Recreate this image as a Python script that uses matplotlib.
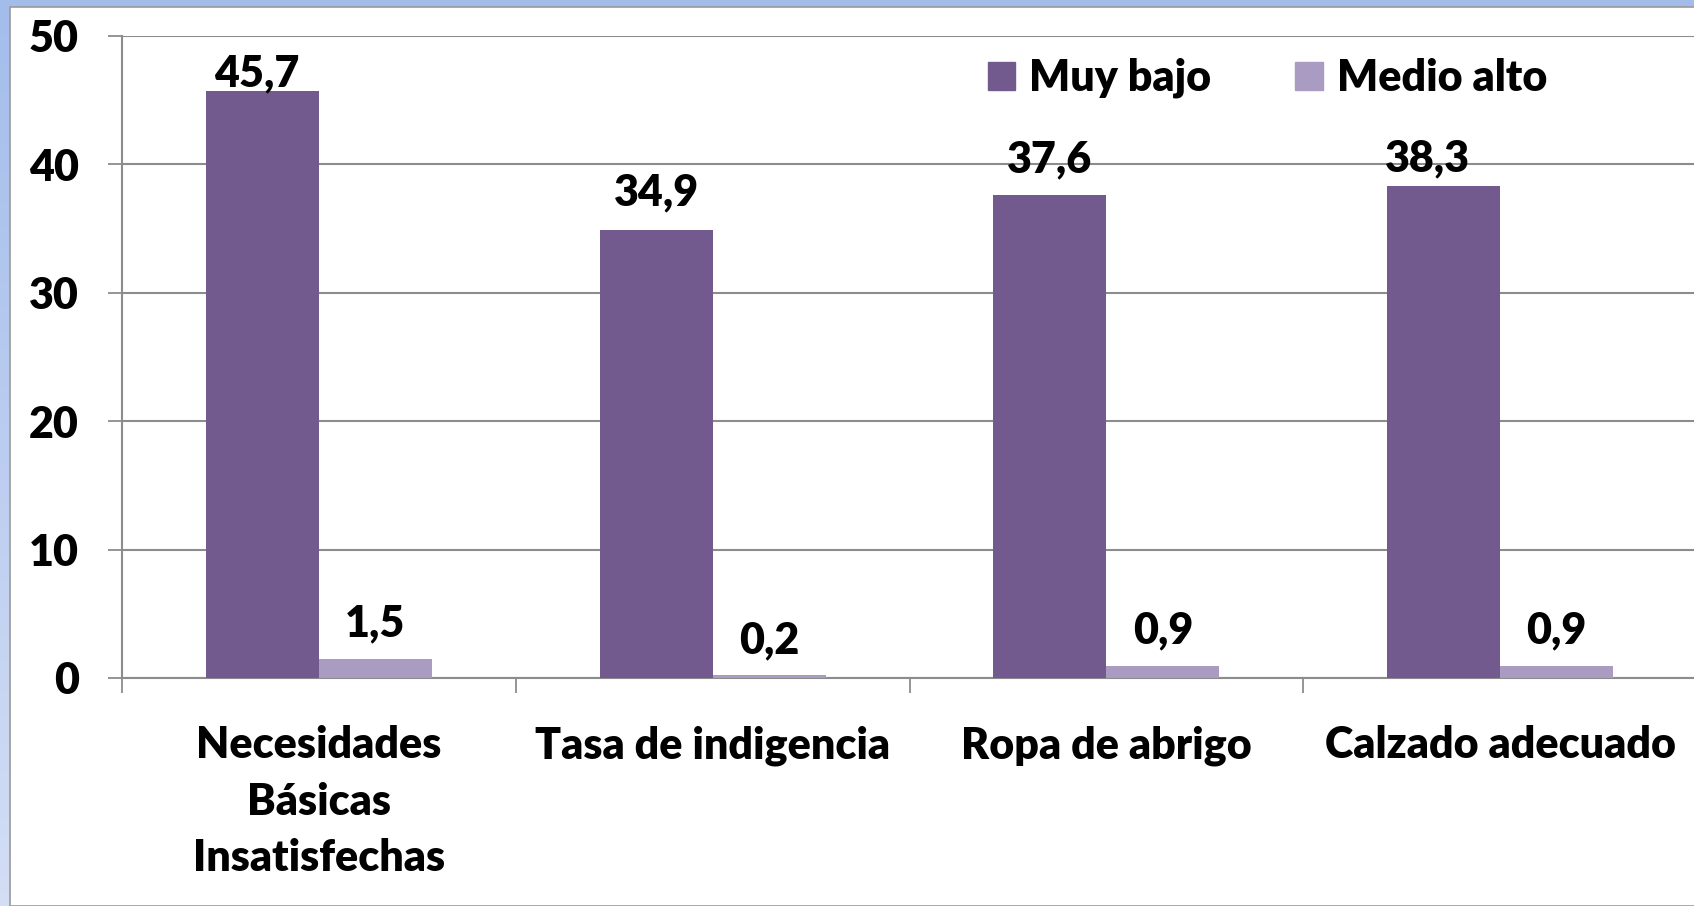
import matplotlib.pyplot as plt
import numpy as np
from matplotlib.patches import Rectangle, Patch

# data
categories = ['Necesidades\nBásicas\nInsatisfechas', 'Tasa de indigencia', 'Ropa de abrigo', 'Calzado adecuado']
muy_bajo = [45.7, 34.9, 37.6, 38.3]
medio_alto = [1.5, 0.2, 0.9, 0.9]
series_names = ['Muy bajo', 'Medio alto']

# label nudges in pixels (dx, dy above the bar top)
nudge_muy = [(-6, 18), (0, 37), (0, 36), (-16, 28)]
nudge_medio = [(0, 35), (0, 35), (0, 36), (0, 36)]

c_dark = '#725A8E'
c_light = '#A99BC1'
fs = 31
wt = 'heavy'
plt.rcParams['font.family'] = ['Lato', 'DejaVu Sans']
plt.rcParams['font.weight'] = wt

W, H = 1694, 906
fig = plt.figure(figsize=(W / 100, H / 100), dpi=100)

# slide-like background: blue gradient with a white panel
bg = fig.add_axes([0, 0, 1, 1], zorder=-10)
grad = np.linspace(0, 1, 256).reshape(-1, 1)
top = np.array([0.64, 0.74, 0.92])
bot = np.array([0.83, 0.87, 0.96])
img = top + grad[..., None] * (bot - top)
bg.imshow(img, aspect='auto', extent=[0, 1, 0, 1])
bg.add_patch(Rectangle((10 / W, 0), 1, 1 - 7 / H, facecolor='white', edgecolor='#9A9A9A', lw=1.2))
bg.set_xlim(0, 1)
bg.set_ylim(0, 1)
bg.axis('off')

ax = fig.add_axes([122 / W, 1 - 678 / H, (1697 - 122) / W, (678 - 36) / H])
ax.patch.set_alpha(0)

x = np.arange(len(categories))
w = 0.287
b1 = ax.bar(x - w / 2, muy_bajo, w, color=c_dark, zorder=3)
b2 = ax.bar(x + w / 2, medio_alto, w, color=c_light, zorder=3)

for bars, vals, nud in ((b1, muy_bajo, nudge_muy), (b2, medio_alto, nudge_medio)):
    for r, v, (dx, dy) in zip(bars, vals, nud):
        ax.annotate(f'{v:.1f}'.replace('.', ','), (r.get_x() + r.get_width() / 2, v),
                    xytext=(dx, dy), textcoords='offset pixels',
                    ha='center', va='center', fontsize=fs, fontweight=wt)

ax.set_xlim(-0.5, 3.5)
ax.set_ylim(0, 50)
ax.set_yticks([0, 10, 20, 30, 40, 50])
ax.yaxis.grid(True, color='#8C8C8C', lw=1.5, zorder=0)
ax.set_axisbelow(True)

ax.set_xticks(x)
ax.set_xticklabels(categories, fontsize=fs, fontweight=wt, linespacing=1.5)
ax.set_xticks(np.arange(-0.5, 3.6, 1), minor=True)
ax.tick_params(axis='x', which='major', length=0, pad=34)
ax.tick_params(axis='x', which='minor', length=11, width=1.3, color='#8C8C8C', direction='out')
ax.tick_params(axis='y', length=10, width=1.3, color='#8C8C8C', pad=21, labelsize=fs)
for lab in ax.get_yticklabels():
    lab.set_fontweight(wt)

for s in ('top', 'right'):
    ax.spines[s].set_visible(False)
ax.spines['left'].set_color('#8C8C8C')
ax.spines['left'].set_linewidth(1.5)
ax.spines['bottom'].set_color('#8C8C8C')
ax.spines['bottom'].set_linewidth(1.5)

handles = [Patch(color=c_dark), Patch(color=c_light)]
fig.legend(handles, series_names, loc='center left', bbox_to_anchor=(988 / W, 1 - 78 / H),
           ncol=2, frameon=False, borderpad=0, borderaxespad=0,
           handlelength=0.63, handleheight=0.63, handletextpad=0.33, columnspacing=1.95,
           prop={'size': fs, 'weight': wt})

fig.savefig('out.png', dpi=100)
